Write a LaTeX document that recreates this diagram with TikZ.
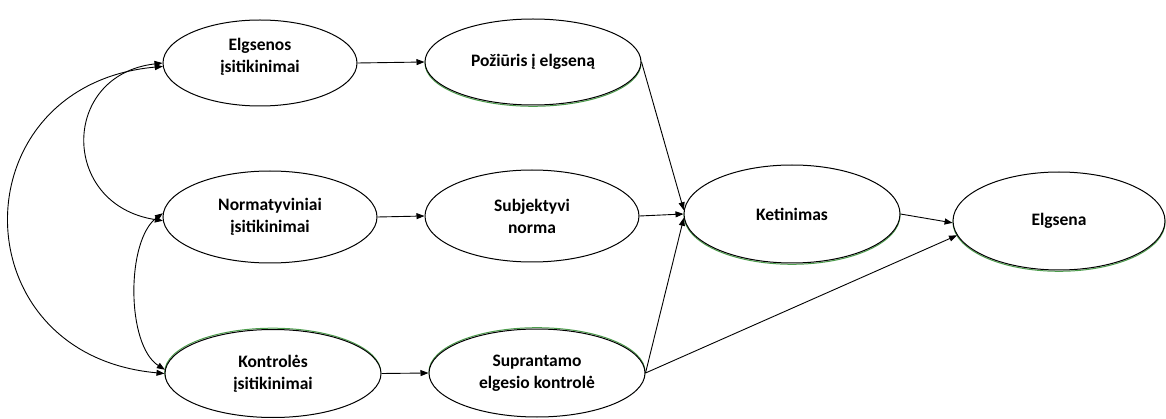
\documentclass[tikz,border=0pt]{standalone}
\usepackage{fontspec}
\setmainfont{Carlito}
\usetikzlibrary{shapes.geometric,arrows.meta}
\begin{document}
\begin{tikzpicture}[x=1pt,y=-1pt,
  oval/.style={ellipse,draw,line width=1pt,inner sep=0pt,align=center,
    font=\bfseries\fontsize{17.5}{22}\selectfont,fill=white},
  glow/.style={ellipse,draw=green!45!black!70,line width=1pt,inner sep=0pt},
  arr/.style={-{Triangle[length=8pt,width=6pt]},line width=0.9pt},
  biarr/.style={{Triangle[length=8pt,width=6pt]}-{Triangle[length=8pt,width=6pt]},line width=0.9pt}]
\useasboundingbox (0,0) rectangle (1166,419);
% green shadows
\node[glow,minimum width=216pt,minimum height=86pt] (Pg) at (533,63.3) {};
\node[glow,minimum width=216pt,minimum height=98pt] (Kg) at (792,215.3) {};
\node[glow,minimum width=212pt,minimum height=98pt] (Eg) at (1059,222.3) {};
\node[glow,minimum width=216pt,minimum height=88pt] (Cg) at (272.7,372.2) {};
\node[glow,minimum width=216pt,minimum height=88pt] (Sg) at (537,371.7) {};
% nodes
\node[oval,minimum width=194pt,minimum height=86pt] (EB) at (260,63) {};
\node[font=\bfseries\fontsize{17.5}{22}\selectfont,align=center,inner sep=0pt] (EBt) at (260,57) {Elgsenos\\įsitikinimai};
\node[oval,minimum width=216pt,minimum height=86pt] (P) at (533,62) {Požiūris į elgseną};
\node[oval,minimum width=214pt,minimum height=92pt] (N) at (270,217) {Normatyviniai\\įsitikinimai};
\node[oval,minimum width=214pt,minimum height=92pt] (S) at (532,216) {Subjektyvi\\norma};
\node[oval,minimum width=216pt,minimum height=98pt] (K) at (792,214) {Ketinimas};
\node[oval,minimum width=212pt,minimum height=98pt] (E) at (1059,221) {Elgsena};
\node[oval,minimum width=216pt,minimum height=88pt] (C) at (273,373.5) {Kontrolės\\įsitikinimai};
\node[oval,minimum width=216pt,minimum height=88pt] (SP) at (537,373) {Suprantamo\\elgesio kontrolė};
% straight arrows
\draw[arr] (EB.east) -- (P.west);
\draw[arr] (N.east) -- (S.west);
\draw[arr] (C.east) -- (SP.west);
\draw[arr] (P.east) -- (K.178);
\draw[arr] (S.east) -- (K.west);
\draw[arr] (SP.east) -- (K.182);
\draw[arr] (K.east) -- (E.181);
\draw[arr] (SP.east) -- (E.188);
% curved bidirectional arrows
\draw[biarr] (EB.182) .. controls (-42,85) and (-42,355) .. (C.180);
\draw[biarr] (EB.180) .. controls (60,75) and (60,205) .. (N.182);
\draw[biarr] (N.178) .. controls (126,240) and (126,345) .. (C.178);
\end{tikzpicture}
\end{document}
